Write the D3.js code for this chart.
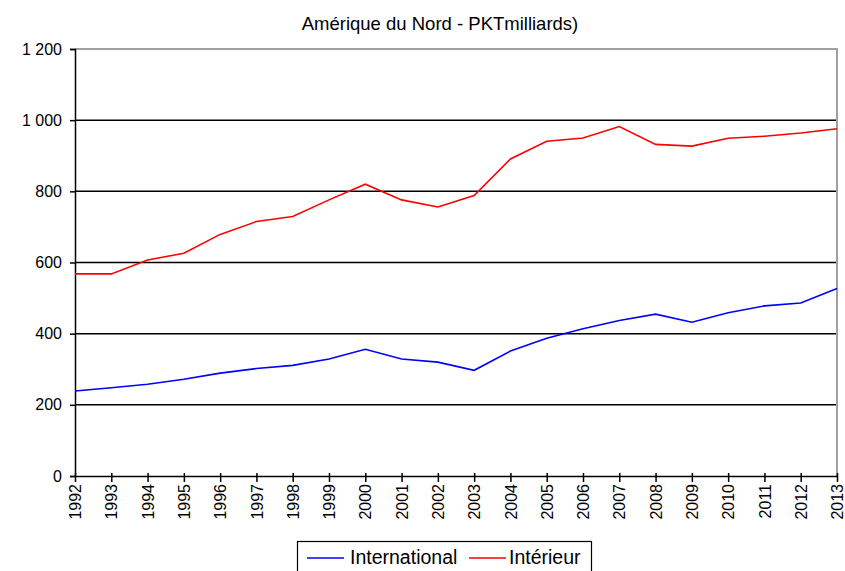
<!DOCTYPE html>
<html><head><meta charset="utf-8">
<script src="https://cdn.jsdelivr.net/npm/d3@7"></script>
<style>body{margin:0;background:#fff}svg{display:block}text{font-family:"Liberation Sans",Arial,sans-serif}</style>
</head><body>
<script>
const years = [1992,1993,1994,1995,1996,1997,1998,1999,2000,2001,2002,2003,2004,2005,2006,2007,2008,2009,2010,2011,2012,2013];
const international = [239,248,258,272,289,302,311,329,356,329,320,297,351,387,414,437,455,432,459,478,486,527];
const interieur = [568,568,607,626,679,715,729,776,820,776,756,788,891,941,950,982,932,927,949,955,964,976];
const yTicks = [0,200,400,600,800,1000,1200];
const seriesNames = ["International","Intérieur"];
const seriesColors = ["#0000ff","#ff0000"];

const W=845,H=571;
const m={left:75,right:837,top:49,bottom:476};
const svg=d3.select("body").append("svg").attr("width",W).attr("height",H);
const x=d3.scalePoint().domain(years).range([m.left,m.right]);
const y=d3.scaleLinear().domain([0,1200]).range([m.bottom,m.top]);
const fmt=v=>d3.format(",")(v).replace(/,/g," ");

svg.append("text").attr("x",440).attr("y",30).attr("text-anchor","middle").attr("font-size",18.5).text("Amérique du Nord - PKTmilliards)");

// gridlines
svg.append("g").selectAll("line").data(yTicks.filter(d=>d>0&&d<1200)).join("line")
 .attr("x1",m.left).attr("x2",m.right).attr("y1",d=>y(d)).attr("y2",d=>y(d))
 .attr("stroke","#000").attr("stroke-width",1.5);
// border top/right gray
svg.append("path").attr("d",`M${m.left},${y(1200)}H${m.right}V${m.bottom}`).attr("fill","none").attr("stroke","#a0a0a0").attr("stroke-width",2);

// y axis
const ya=svg.append("g").attr("transform",`translate(${m.left},0)`).call(d3.axisLeft(y).tickValues(yTicks).tickFormat(fmt).tickSize(5).tickPadding(8));
ya.select(".domain").attr("stroke","#000").attr("stroke-width",1.5);
ya.selectAll("text").attr("font-size",16).attr("fill","#000");
ya.selectAll("line").attr("stroke","#000").attr("stroke-width",1.5);

// x axis
const xa=svg.append("g").attr("transform",`translate(0,${m.bottom})`).call(d3.axisBottom(x).tickSize(6).tickSizeOuter(0));
xa.select(".domain").attr("stroke","#000").attr("stroke-width",1.5);
xa.selectAll("line").attr("stroke","#000").attr("stroke-width",1.5).attr("y1",-3);
xa.selectAll("text").attr("font-size",16).attr("fill","#000")
 .attr("transform","rotate(-90)").attr("text-anchor","end").attr("x",-8).attr("y",0).attr("dy","0.35em");

const line=d3.line().x((d,i)=>x(years[i])).y(d=>y(d));
[international,interieur].forEach((s,k)=>{
 svg.append("path").datum(s).attr("d",line).attr("fill","none").attr("stroke",seriesColors[k]).attr("stroke-width",1.6);
});

// legend
const lg=svg.append("g");
lg.append("rect").attr("x",297.5).attr("y",541.5).attr("width",294).attr("height",40).attr("fill","#fff").attr("stroke","#000").attr("stroke-width",1.2);
const items=[{x:307,tx:350},{x:469,tx:509}];
items.forEach((it,k)=>{
 lg.append("line").attr("x1",it.x).attr("x2",it.x+37).attr("y1",558).attr("y2",558).attr("stroke",seriesColors[k]).attr("stroke-width",1.6);
 lg.append("text").attr("x",it.tx).attr("y",564).attr("font-size",19.5).text(seriesNames[k]);
});
</script>
</body></html>
